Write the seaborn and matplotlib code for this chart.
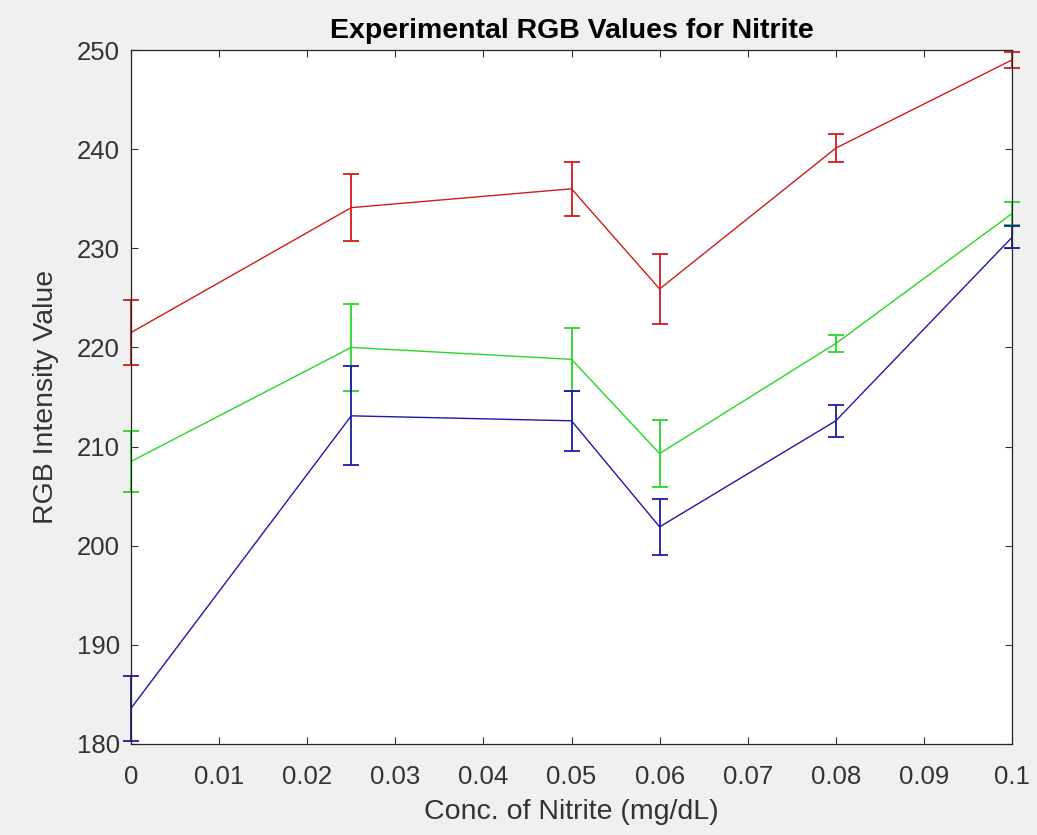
import numpy as np
import pandas as pd
import matplotlib
matplotlib.use("Agg")
import matplotlib.pyplot as plt
import matplotlib.transforms as mtransforms
import seaborn as sns

conc = [0, 0.025, 0.05, 0.06, 0.08, 0.1]
red = [221.5, 234.1, 236.0, 225.9, 240.1, 249.0]
red_err = [3.3, 3.4, 2.7, 3.5, 1.4, 0.8]
green = [208.5, 220.0, 218.8, 209.3, 220.4, 233.5]
green_err = [3.1, 4.4, 3.2, 3.4, 0.9, 1.2]
blue = [183.6, 213.1, 212.6, 201.9, 212.6, 231.1]
blue_err = [3.3, 5.0, 3.0, 2.8, 1.6, 1.1]

xticks = [0, 0.01, 0.02, 0.03, 0.04, 0.05, 0.06, 0.07, 0.08, 0.09, 0.1]
xtick_labels = ["0", "0.01", "0.02", "0.03", "0.04", "0.05", "0.06", "0.07", "0.08", "0.09", "0.1"]
yticks = [180, 190, 200, 210, 220, 230, 240, 250]

sns.set_style("ticks")
plt.rcParams['font.family'] = ['Liberation Sans', 'DejaVu Sans']

fig = plt.figure(figsize=(10.37, 8.35), dpi=100, facecolor='#f0f0f0')
ax = fig.add_axes([131/1037, 1-744/835, (1012-131)/1037, (744-50)/835])
ax.set_facecolor('white')

# clip box: vertically limited to the axes, horizontally a bit wider
x0, y0, x1, y1 = ax.bbox.extents
clipbox = mtransforms.Bbox.from_extents(x0 - 30, y0, x1 + 30, y1)

series = [
    ("Red", red, red_err, '#d01c1c'),
    ("Green", green, green_err, '#26d826'),
    ("Blue", blue, blue_err, '#1a1aa8'),
]
for name, vals, errs, col in series:
    df = pd.DataFrame({"conc": conc, "val": vals})
    sns.lineplot(data=df, x="conc", y="val", ax=ax, color=col, linewidth=1.0)
    eb = ax.errorbar(conc, vals, yerr=errs, fmt='none', ecolor=col, elinewidth=1.3,
                     capsize=6, capthick=1.3)
    for art in list(eb[1]) + list(eb[2]):
        art.set_clip_on(True)
        art.set_clip_box(clipbox)

ax.set_xlim(0, 0.1)
ax.set_ylim(180, 250)
ax.set_xticks(xticks)
ax.set_xticklabels(xtick_labels)
ax.set_yticks(yticks)
ax.tick_params(direction='in', length=5, width=0.8, top=True, right=True,
               labelsize=18.5, colors='#333333')
ax.tick_params(axis='x', pad=15)
ax.tick_params(axis='y', pad=8)
for s in ax.spines.values():
    s.set_linewidth(0.9)
    s.set_color('#262626')

ax.set_xlabel("Conc. of Nitrite (mg/dL)", fontsize=20.5, color='#333333', labelpad=7)
ax.set_ylabel("RGB Intensity Value", fontsize=20.5, color='#333333', labelpad=13)
ax.set_title("Experimental RGB Values for Nitrite", fontsize=20.5, fontweight='bold',
             color='black', pad=9)

fig.savefig("out.png", dpi=100, facecolor=fig.get_facecolor())
